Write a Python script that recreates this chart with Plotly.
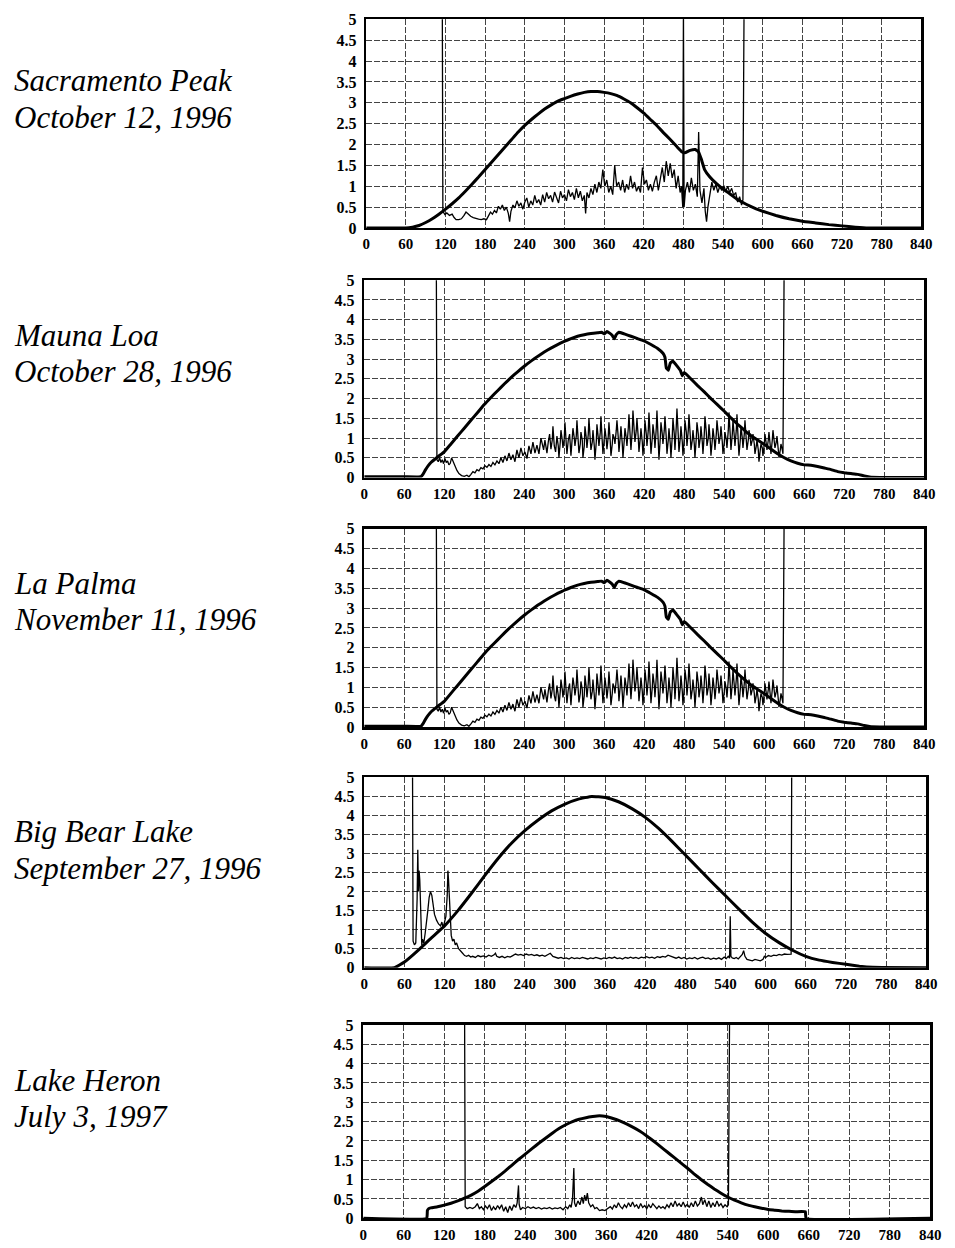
import plotly.graph_objects as go

# ---------------- data ----------------
x_ticks = [0, 60, 120, 180, 240, 300, 360, 420, 480, 540, 600, 660, 720, 780, 840]
y_ticks = [0, 0.5, 1, 1.5, 2, 2.5, 3, 3.5, 4, 4.5, 5]
y_tick_text = ["0", "0.5", "1", "1.5", "2", "2.5", "3", "3.5", "4", "4.5", "5"]

site_names = ["Sacramento Peak", "Mauna Loa", "La Palma", "Big Bear Lake", "Lake Heron"]
site_dates = ["October 12, 1996", "October 28, 1996", "November 11, 1996",
              "September 27, 1996", "July 3, 1997"]

# (minute, value) pairs
sac_smooth = [(0, 0.0), (60, 0.0), (70, 0.02), (80, 0.06), (90, 0.13), (100, 0.22), (110, 0.33),
              (120, 0.45), (130, 0.58), (140, 0.72), (150, 0.88), (160, 1.05), (170, 1.22),
              (180, 1.4), (190, 1.58), (200, 1.76), (210, 1.94), (220, 2.12), (230, 2.3),
              (240, 2.46), (250, 2.6), (260, 2.73), (270, 2.85), (280, 2.95), (290, 3.04),
              (300, 3.1), (310, 3.16), (320, 3.21), (330, 3.25), (340, 3.27), (350, 3.27),
              (360, 3.25), (370, 3.22), (380, 3.17), (390, 3.09), (400, 3.0), (410, 2.88),
              (420, 2.75), (430, 2.6), (440, 2.45), (450, 2.28), (460, 2.12), (470, 1.95),
              (478, 1.82), (482, 1.8), (490, 1.86), (498, 1.88), (503, 1.82), (507, 1.65),
              (512, 1.4), (520, 1.22), (530, 1.06), (540, 0.93), (550, 0.82), (560, 0.7),
              (570, 0.61), (580, 0.53), (590, 0.46), (600, 0.4), (620, 0.3), (640, 0.22),
              (660, 0.16), (680, 0.12), (700, 0.08), (720, 0.05), (740, 0.02), (760, 0.0),
              (840, 0.0)]

sac_noise = [(115, 6.0), (116, 0.4), (119, 0.32), (122, 0.36), (126, 0.3), (130, 0.33), (133, 0.25),
             (136, 0.2), (140, 0.2), (144, 0.22), (148, 0.3), (151, 0.38), (154, 0.34), (158, 0.28),
             (162, 0.25), (166, 0.22), (170, 0.21), (174, 0.2), (178, 0.22), (182, 0.2), (185, 0.28),
             (188, 0.38), (191, 0.33), (194, 0.42), (197, 0.36), (200, 0.52), (203, 0.45), (206, 0.55),
             (209, 0.42), (212, 0.5), (215, 0.35), (217, 0.15), (219, 0.4), (222, 0.55), (225, 0.48),
             (228, 0.65), (231, 0.52), (234, 0.6), (237, 0.45), (240, 0.62), (243, 0.72), (246, 0.5),
             (249, 0.65), (252, 0.55), (255, 0.78), (258, 0.6), (261, 0.68), (264, 0.55), (267, 0.8),
             (270, 0.62), (273, 0.85), (276, 0.7), (279, 0.78), (282, 0.62), (285, 0.86), (288, 0.7),
             (291, 0.6), (294, 0.88), (297, 0.72), (300, 0.8), (303, 0.65), (306, 0.92), (309, 0.75),
             (312, 0.85), (315, 0.68), (318, 0.95), (321, 0.72), (324, 0.88), (327, 0.65), (330, 0.78),
             (332, 0.35), (334, 0.85), (337, 0.72), (340, 0.95), (343, 0.8), (346, 1.05), (349, 0.85),
             (352, 1.1), (355, 0.95), (358, 1.4), (361, 1.0), (364, 1.15), (367, 0.85), (370, 1.0),
             (373, 0.8), (376, 1.5), (379, 1.0), (382, 1.1), (385, 0.9), (388, 1.15), (391, 0.85),
             (394, 1.05), (397, 0.92), (400, 1.25), (403, 0.95), (406, 1.1), (409, 0.88), (412, 1.0),
             (415, 0.85), (418, 1.45), (421, 1.05), (424, 1.15), (427, 0.9), (430, 1.05), (433, 0.88),
             (436, 1.1), (439, 1.25), (442, 0.9), (445, 1.2), (448, 1.45), (451, 1.1), (454, 1.6),
             (457, 1.25), (460, 1.55), (463, 1.2), (466, 1.4), (469, 0.95), (472, 1.25), (475, 0.85),
             (477, 1.0), (479, 0.5), (480, 5.3), (481, 0.5), (483, 0.9), (486, 1.1), (489, 0.85),
             (492, 1.2), (495, 0.9), (498, 1.05), (501, 0.75), (503, 2.3), (505, 0.9), (508, 0.6),
             (511, 0.95), (513, 0.4), (515, 0.15), (517, 0.5), (520, 0.85), (523, 1.1), (526, 0.9),
             (529, 1.05), (532, 0.85), (535, 1.0), (538, 0.9), (541, 1.02), (544, 0.88), (547, 1.0),
             (550, 0.85), (553, 0.95), (556, 0.78), (559, 0.85), (562, 0.62), (565, 0.75), (568, 0.55),
             (570, 0.68), (572, 6.0)]

mauna_smooth = [(0, 0.02), (60, 0.02), (85, 0.02), (88, 0.08), (92, 0.2), (96, 0.3), (100, 0.38),
                (110, 0.52), (120, 0.65), (130, 0.85), (140, 1.05), (150, 1.25), (160, 1.45),
                (170, 1.65), (180, 1.85), (190, 2.03), (200, 2.2), (210, 2.37), (220, 2.53),
                (230, 2.68), (240, 2.82), (250, 2.95), (260, 3.07), (270, 3.18), (280, 3.28),
                (290, 3.37), (300, 3.45), (310, 3.52), (320, 3.58), (330, 3.62), (340, 3.65),
                (350, 3.67), (356, 3.68), (360, 3.64), (364, 3.7), (368, 3.66), (372, 3.6),
                (375, 3.52), (378, 3.62), (382, 3.68), (390, 3.64), (400, 3.58), (410, 3.52),
                (420, 3.46), (430, 3.37), (440, 3.27), (448, 3.15), (451, 3.05), (453, 2.78),
                (456, 2.72), (459, 2.9), (463, 2.95), (468, 2.85), (474, 2.72), (477, 2.58),
                (480, 2.66), (490, 2.5), (500, 2.33), (510, 2.17), (520, 2.0), (530, 1.84),
                (540, 1.68), (550, 1.51), (560, 1.35), (570, 1.2), (580, 1.06), (590, 0.95),
                (600, 0.84), (610, 0.72), (620, 0.6), (630, 0.5), (640, 0.42), (650, 0.36),
                (660, 0.32), (670, 0.31), (680, 0.28), (690, 0.24), (700, 0.2), (710, 0.15),
                (720, 0.12), (730, 0.1), (740, 0.08), (750, 0.04), (760, 0.01), (840, 0.0)]

mauna_noise = [(108, 6.0), (109, 0.45), (111, 0.4), (113, 0.5), (115, 0.38), (117, 0.45), (119, 0.35),
               (121, 0.48), (123, 0.38), (125, 0.42), (127, 0.32), (129, 0.36), (131, 0.5), (133, 0.4),
               (136, 0.3), (139, 0.18), (142, 0.1), (146, 0.05), (150, 0.03), (154, 0.06), (157, 0.02),
               (160, 0.08), (163, 0.15), (166, 0.12), (169, 0.2), (172, 0.17), (175, 0.25), (178, 0.22),
               (181, 0.3), (184, 0.26), (187, 0.33), (190, 0.28), (193, 0.38), (196, 0.32), (199, 0.42),
               (202, 0.35), (205, 0.5), (208, 0.38), (211, 0.55), (214, 0.42), (217, 0.62), (220, 0.45),
               (223, 0.58), (226, 0.4), (229, 0.7), (232, 0.5), (235, 0.75), (238, 0.55), (241, 0.65),
               (244, 0.48), (247, 0.8), (250, 0.6), (253, 0.9), (256, 0.62), (259, 0.82),
               (262, 0.6), (265, 1.0), (267, 0.85), (269, 0.7), (271, 0.95), (274, 0.62), (276, 0.9),
               (278, 1.1), (280, 0.72), (282, 0.95), (283, 1.3), (285, 0.8), (287, 0.65), (289, 1.05),
               (291, 0.8), (292, 0.5), (294, 0.9), (295, 1.2), (297, 0.95), (298, 0.75), (300, 1.0),
               (301, 1.4), (303, 0.85), (304, 0.6), (306, 0.95), (308, 1.1), (310, 0.55), (312, 0.9),
               (313, 1.25), (315, 1.0), (316, 0.8), (318, 1.05), (319, 1.45), (321, 0.9), (322, 0.62),
               (324, 0.85), (325, 1.15), (327, 0.95), (328, 0.5), (330, 0.8), (331, 1.3), (333, 1.0),
               (334, 0.75), (336, 1.1), (337, 1.5), (339, 0.95), (340, 0.7), (342, 0.9), (343, 1.2),
               (345, 0.8), (346, 0.45), (348, 0.9), (349, 1.35), (351, 1.0), (352, 0.8), (354, 1.15),
               (355, 1.55), (357, 0.9), (358, 0.6), (360, 1.0), (361, 1.25), (363, 0.95), (364, 0.72),
               (366, 1.05), (367, 1.4), (369, 0.9), (370, 0.55), (372, 0.85), (373, 1.1), (375, 1.0),
               (376, 0.85), (378, 1.2), (379, 1.45), (381, 1.0), (382, 0.65), (384, 1.05), (385, 1.3),
               (387, 0.85), (388, 0.5), (390, 0.95), (391, 1.25), (393, 1.0), (394, 0.8), (396, 1.25),
               (397, 1.6), (399, 1.0), (400, 0.7), (402, 1.2), (403, 1.7), (405, 1.15), (406, 0.9),
               (408, 1.2), (409, 1.5), (411, 1.0), (412, 0.65), (414, 1.0), (415, 1.25), (417, 0.9),
               (418, 0.55), (420, 1.0), (421, 1.45), (423, 1.1), (424, 0.8), (426, 1.2), (427, 1.65),
               (429, 1.0), (430, 0.6), (432, 1.0), (433, 1.35), (435, 1.05), (436, 0.75), (438, 1.25),
               (439, 1.7), (441, 0.9), (442, 0.45), (444, 1.0), (445, 1.4), (447, 1.1), (448, 0.85),
               (450, 1.2), (451, 1.55), (453, 1.0), (454, 0.6), (456, 0.95), (457, 1.25), (459, 0.85),
               (460, 0.5), (462, 1.05), (463, 1.5), (465, 1.1), (466, 0.7), (468, 1.3), (469, 1.75),
               (471, 1.05), (472, 0.65), (474, 1.0), (475, 1.3), (477, 0.9), (478, 0.55), (480, 1.0),
               (481, 1.45), (483, 1.15), (484, 0.8), (486, 1.2), (487, 1.6), (489, 1.05), (490, 0.7),
               (492, 0.95), (493, 1.2), (495, 0.85), (496, 0.5), (498, 1.0), (499, 1.4), (501, 1.1),
               (502, 0.75), (504, 1.0), (505, 1.3), (507, 0.9), (508, 0.6), (510, 1.1), (511, 1.55),
               (513, 1.15), (514, 0.8), (516, 1.0), (517, 1.35), (519, 0.9), (520, 0.55), (522, 0.95),
               (523, 1.25), (525, 0.95), (526, 0.7), (528, 1.1), (529, 1.45), (531, 1.1), (532, 0.85),
               (534, 1.05), (535, 1.3), (537, 0.9), (538, 0.6), (540, 0.9), (541, 1.15), (543, 0.95),
               (544, 0.75), (546, 1.2), (547, 1.65), (549, 1.05), (550, 0.7), (552, 1.1), (553, 1.45),
               (555, 1.05), (556, 0.8), (558, 1.2), (559, 1.6), (561, 0.9), (562, 0.55), (564, 0.95),
               (565, 1.3), (567, 1.0), (568, 0.75), (570, 1.1), (571, 1.45), (573, 0.95), (574, 0.7),
               (576, 0.95), (577, 1.2), (579, 1.0), (580, 0.8), (582, 0.95), (583, 1.1), (585, 0.85),
               (586, 0.6), (588, 0.8), (589, 0.95), (591, 0.7), (592, 0.4), (594, 0.7), (595, 0.85),
               (597, 0.75), (598, 0.55), (600, 0.85), (601, 1.1), (603, 0.85), (604, 0.7), (606, 0.95),
               (607, 1.15), (609, 0.8), (610, 0.6), (612, 0.95), (613, 1.2), (615, 0.9), (616, 0.75),
               (618, 0.9), (619, 1.05), (621, 0.7), (622, 0.5), (624, 0.7), (625, 0.85), (627, 0.7),
               (628, 0.6), (630, 6.0)]

# La Palma panel in the reference shows the same traces as Mauna Loa
palma_smooth = list(mauna_smooth)
palma_noise = list(mauna_noise)

bear_smooth = [(0, 0.0), (45, 0.0), (60, 0.15), (80, 0.45), (100, 0.78), (120, 1.1), (140, 1.5),
               (160, 1.95), (180, 2.42), (200, 2.87), (220, 3.27), (240, 3.6), (260, 3.88),
               (280, 4.12), (300, 4.3), (320, 4.43), (340, 4.5), (360, 4.47), (380, 4.36),
               (400, 4.18), (420, 3.95), (440, 3.66), (460, 3.32), (480, 2.96), (500, 2.6),
               (520, 2.24), (540, 1.89), (560, 1.54), (580, 1.2), (600, 0.9), (620, 0.66),
               (640, 0.46), (660, 0.3), (680, 0.2), (700, 0.14), (720, 0.09), (740, 0.04),
               (760, 0.01), (840, 0.0)]

bear_noise = [(72, 6.0), (73, 0.7), (75, 0.6), (77, 0.65), (79, 1.8), (80, 3.1), (81, 2.0), (82, 2.55),
              (83, 2.3), (84, 1.7), (85, 0.9), (86, 0.6), (87, 0.75), (89, 0.65), (91, 0.9), (93, 1.15),
              (95, 1.5), (97, 1.85), (99, 2.0), (101, 1.9), (103, 1.6), (105, 1.4), (108, 1.25),
              (111, 1.15), (114, 1.1), (116, 1.2), (118, 1.05), (120, 1.25), (122, 1.35), (124, 1.9),
              (125, 2.55), (126, 2.3), (127, 2.0), (128, 1.6), (129, 1.1), (130, 0.85), (132, 0.7),
              (134, 0.75), (136, 0.6), (138, 0.65), (141, 0.5), (144, 0.45), (147, 0.38), (150, 0.32),
              (153, 0.3), (156, 0.33), (159, 0.28), (162, 0.3), (166, 0.27), (170, 0.32), (174, 0.29),
              (178, 0.31), (182, 0.28), (186, 0.33), (190, 0.3), (194, 0.34), (196, 0.38), (198, 0.3),
              (202, 0.27), (206, 0.3), (210, 0.26), (214, 0.3), (218, 0.28), (222, 0.32), (226, 0.36),
              (230, 0.33), (234, 0.35), (238, 0.32), (242, 0.36), (246, 0.33), (250, 0.35), (254, 0.32),
              (258, 0.34), (262, 0.31), (266, 0.33), (270, 0.3), (274, 0.35), (278, 0.38), (282, 0.3),
              (286, 0.27), (290, 0.25), (294, 0.27), (298, 0.24), (302, 0.26), (306, 0.23), (310, 0.27),
              (314, 0.24), (318, 0.26), (322, 0.24), (326, 0.27), (330, 0.25), (334, 0.23), (338, 0.26),
              (342, 0.24), (346, 0.27), (350, 0.25), (354, 0.23), (358, 0.26), (362, 0.24), (366, 0.27),
              (370, 0.25), (374, 0.28), (378, 0.24), (382, 0.26), (386, 0.23), (390, 0.27), (394, 0.25),
              (398, 0.28), (402, 0.25), (406, 0.27), (410, 0.24), (414, 0.28), (418, 0.26), (422, 0.29),
              (426, 0.26), (430, 0.28), (434, 0.25), (438, 0.29), (442, 0.27), (446, 0.3), (450, 0.28),
              (454, 0.33), (458, 0.3), (462, 0.27), (466, 0.25), (470, 0.28), (474, 0.24), (478, 0.27),
              (482, 0.23), (486, 0.26), (490, 0.24), (494, 0.27), (498, 0.23), (502, 0.26), (506, 0.28),
              (510, 0.24), (514, 0.26), (518, 0.22), (522, 0.25), (526, 0.23), (530, 0.26), (534, 0.22),
              (538, 0.28), (541, 0.24), (544, 0.3), (546, 0.25), (547, 1.35), (548, 0.3), (550, 0.26),
              (553, 0.24), (556, 0.27), (559, 0.23), (562, 0.3), (565, 0.35), (567, 0.45), (569, 0.3),
              (572, 0.22), (576, 0.2), (580, 0.18), (584, 0.22), (588, 0.2), (592, 0.18), (596, 0.22),
              (598, 0.3), (600, 0.27), (604, 0.32), (608, 0.3), (612, 0.33), (616, 0.32), (620, 0.35),
              (624, 0.33), (628, 0.36), (632, 0.35), (636, 0.37), (638, 0.36), (639, 6.0)]

heron_smooth = [(0, 0.0), (94, 0.0), (95, 0.2), (97, 0.25), (100, 0.27), (110, 0.3), (120, 0.34),
                (130, 0.39), (140, 0.45), (150, 0.52), (160, 0.6), (170, 0.7), (180, 0.82),
                (190, 0.95), (200, 1.08), (210, 1.22), (220, 1.37), (230, 1.52), (240, 1.66),
                (250, 1.8), (260, 1.94), (270, 2.07), (280, 2.2), (290, 2.32), (300, 2.42),
                (310, 2.5), (320, 2.56), (330, 2.6), (340, 2.63), (350, 2.65), (360, 2.63),
                (370, 2.58), (380, 2.52), (390, 2.44), (400, 2.35), (410, 2.25), (420, 2.13),
                (430, 2.0), (440, 1.86), (450, 1.72), (460, 1.58), (470, 1.44), (480, 1.3),
                (490, 1.15), (500, 1.01), (510, 0.88), (520, 0.76), (530, 0.65), (540, 0.55),
                (550, 0.47), (560, 0.4), (570, 0.34), (580, 0.3), (590, 0.26), (600, 0.23),
                (610, 0.21), (620, 0.19), (630, 0.18), (640, 0.17), (655, 0.17), (656, 0.0),
                (840, 0.0)]

heron_noise = [(150, 6.0), (151, 0.3), (154, 0.25), (158, 0.28), (162, 0.25), (166, 0.3), (169, 0.38),
               (172, 0.25), (175, 0.3), (178, 0.22), (181, 0.32), (184, 0.25), (187, 0.35), (190, 0.2),
               (193, 0.3), (196, 0.22), (199, 0.33), (202, 0.25), (205, 0.35), (208, 0.18), (211, 0.3),
               (214, 0.15), (217, 0.32), (220, 0.2), (223, 0.35), (226, 0.28), (228, 0.4), (230, 0.85),
               (231, 0.35), (233, 0.22), (236, 0.28), (240, 0.25), (244, 0.3), (248, 0.26), (252, 0.29),
               (256, 0.25), (260, 0.28), (264, 0.24), (268, 0.27), (272, 0.25), (276, 0.28), (280, 0.24),
               (284, 0.27), (288, 0.25), (292, 0.28), (296, 0.22), (300, 0.3), (303, 0.25), (306, 0.35),
               (308, 0.28), (310, 0.5), (312, 1.3), (313, 0.4), (315, 0.3), (318, 0.45), (321, 0.35),
               (324, 0.55), (326, 0.38), (328, 0.6), (330, 0.45), (332, 0.65), (334, 0.4), (337, 0.3),
               (340, 0.35), (343, 0.25), (346, 0.28), (350, 0.2), (354, 0.22), (358, 0.2), (362, 0.25),
               (366, 0.3), (369, 0.24), (372, 0.35), (375, 0.27), (378, 0.4), (381, 0.3), (384, 0.25),
               (387, 0.35), (390, 0.28), (393, 0.4), (396, 0.3), (399, 0.42), (402, 0.3), (405, 0.35),
               (408, 0.25), (411, 0.38), (414, 0.28), (417, 0.33), (420, 0.25), (423, 0.35), (426, 0.27),
               (429, 0.38), (432, 0.3), (435, 0.25), (438, 0.32), (441, 0.26), (444, 0.3), (447, 0.25),
               (450, 0.35), (453, 0.28), (456, 0.4), (459, 0.3), (462, 0.45), (465, 0.32), (468, 0.38),
               (471, 0.3), (474, 0.42), (477, 0.3), (480, 0.36), (483, 0.28), (486, 0.4), (489, 0.3),
               (492, 0.45), (495, 0.32), (498, 0.38), (501, 0.55), (503, 0.35), (506, 0.48), (509, 0.3),
               (512, 0.45), (515, 0.28), (518, 0.4), (521, 0.3), (524, 0.45), (527, 0.32), (530, 0.38),
               (533, 0.28), (536, 0.35), (539, 0.3), (541, 0.35), (543, 6.0)]

panel_smooth = [sac_smooth, mauna_smooth, palma_smooth, bear_smooth, heron_smooth]
panel_noise = [sac_noise, mauna_noise, palma_noise, bear_noise, heron_noise]

# ---------------- layout geometry (page pixels, figure fills the 955x1248 page) ----------------
W, H = 955, 1248
boxes = [  # left, right, top, bottom
    (368, 932, 11.5, 223),
    (366, 935, 276, 476),
    (366, 935, 528, 729),
    (366, 937, 780, 973),
    (365, 941, 1031, 1227),
]
label_rows = [(74, 111), (332, 369), (583, 620), (835, 872), (1087, 1124)]


def px_x(p):
    return p / W


def px_y(p):
    return 1 - p / H


fig = go.Figure()
serif = "Liberation Serif"

for i in range(5):
    ax = "" if i == 0 else str(i + 1)
    sx, sy = zip(*panel_smooth[i])
    nx, ny = zip(*panel_noise[i])
    fig.add_trace(go.Scatter(x=list(nx), y=list(ny), mode="lines",
                             line=dict(color="black", width=1.3),
                             xaxis="x" + ax, yaxis="y" + ax, showlegend=False,
                             hoverinfo="skip"))
    fig.add_trace(go.Scatter(x=list(sx), y=list(sy), mode="lines",
                             line=dict(color="black", width=3, shape="spline", smoothing=0.3),
                             xaxis="x" + ax, yaxis="y" + ax, showlegend=False,
                             hoverinfo="skip"))
    l, r, t, b = boxes[i]
    common = dict(showline=True, linecolor="black", linewidth=2.5, mirror=True,
                  showgrid=True, gridcolor="#444444", gridwidth=1, griddash="6px,2px",
                  zeroline=False, ticks="", fixedrange=True)
    fig.layout["xaxis" + ax] = dict(domain=[px_x(l), px_x(r)], anchor="y" + ax,
                                    range=[0, 840], tickmode="array", tickvals=x_ticks,
                                    ticktext=[str(v) for v in x_ticks], ticklabelstandoff=1,
                                    tickfont=dict(family=serif, size=15, color="black",
                                                  weight="bold"),
                                    **common)
    fig.layout["yaxis" + ax] = dict(domain=[px_y(b), px_y(t)], anchor="x" + ax,
                                    range=[0, 5], tickmode="array", tickvals=y_ticks,
                                    ticktext=y_tick_text, ticklabelstandoff=4,
                                    tickfont=dict(family=serif, size=16, color="black",
                                                  weight="bold"),
                                    **common)
    y1, y2 = label_rows[i]
    for txt, yp in ((site_names[i], y1), (site_dates[i], y2)):
        fig.add_annotation(text="<i>" + txt + "</i>", xref="paper", yref="paper",
                           x=px_x(8), y=px_y(yp), xanchor="left", yanchor="middle",
                           showarrow=False,
                           font=dict(family=serif, size=31, color="black"))

fig.update_layout(width=W, height=H, margin=dict(l=0, r=0, t=0, b=0),
                  paper_bgcolor="white", plot_bgcolor="white")

# remove the browser's default body margin so the figure sits exactly on the page
fig.write_html("out.html",
               config={"displayModeBar": False, "staticPlot": True},
               post_script="document.body.style.margin='0';"
                           "document.body.style.overflow='hidden';")
